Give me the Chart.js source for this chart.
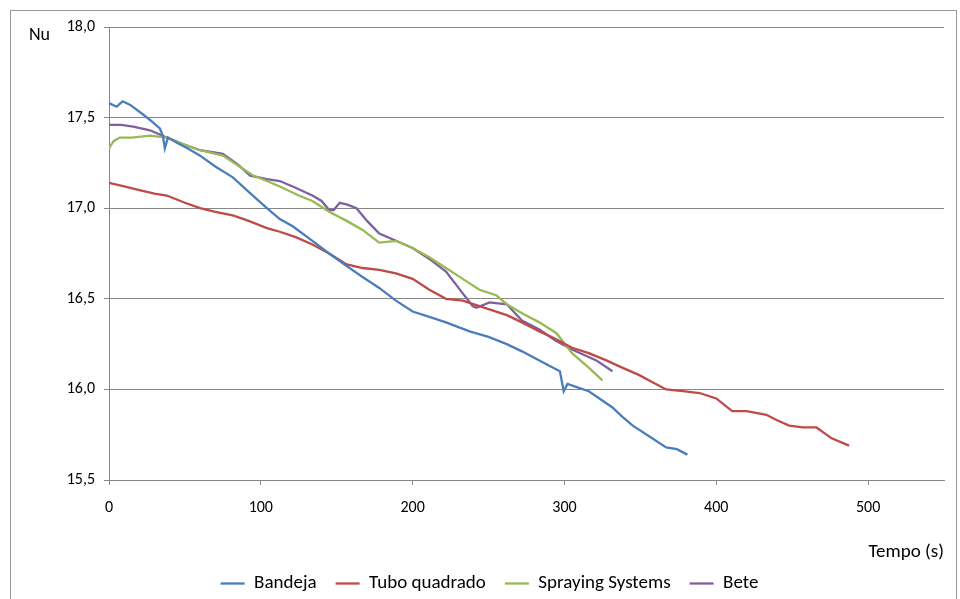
<!DOCTYPE html>
<html><head><meta charset="utf-8">
<script src="https://cdn.jsdelivr.net/npm/chart.js@4/dist/chart.umd.min.js"></script>
<style>html,body{margin:0;padding:0;background:#fff}canvas{display:block}</style>
</head><body>
<canvas id="c" width="960" height="599"></canvas>
<script>
const seriesNames = ["Bandeja", "Tubo quadrado", "Spraying Systems", "Bete"];
const xTickValues = [0, 100, 200, 300, 400, 500];
const yTickValues = [15.5, 16.0, 16.5, 17.0, 17.5, 18.0];

const bandejaT = [0, 5, 9, 14, 22, 28, 33.5, 35.5, 36.8, 38.8, 45, 52, 60, 70, 81.6, 92, 104, 112.5, 121, 134, 145, 156.6, 167, 178, 189, 200, 211, 222, 237.5, 250, 262, 272, 283.5, 290, 297, 299.5, 302, 309, 316, 323, 331.6, 338, 345, 356, 367, 374, 381];
const bandejaNu = [17.58, 17.56, 17.59, 17.57, 17.52, 17.48, 17.44, 17.40, 17.33, 17.39, 17.36, 17.33, 17.29, 17.23, 17.17, 17.09, 17.00, 16.94, 16.90, 16.82, 16.75, 16.68, 16.62, 16.56, 16.49, 16.43, 16.40, 16.37, 16.32, 16.29, 16.25, 16.21, 16.16, 16.13, 16.10, 15.99, 16.03, 16.01, 15.99, 15.95, 15.90, 15.85, 15.80, 15.74, 15.68, 15.67, 15.64];

const tuboT = [0, 10, 20, 30, 38, 50, 60, 70, 81.6, 92, 104, 112.5, 123, 134, 145, 156.6, 167, 178, 189, 200, 211, 222, 233, 244, 262, 272, 283.5, 294, 305, 316, 327.6, 338, 349, 358, 367, 378, 389, 400, 410.5, 420, 433, 440, 448, 457, 466, 476, 487.5];
const tuboNu = [17.14, 17.12, 17.10, 17.08, 17.07, 17.03, 17.00, 16.98, 16.96, 16.93, 16.89, 16.87, 16.84, 16.80, 16.75, 16.69, 16.67, 16.66, 16.64, 16.61, 16.55, 16.50, 16.49, 16.46, 16.41, 16.37, 16.32, 16.28, 16.23, 16.20, 16.16, 16.12, 16.08, 16.04, 16.00, 15.99, 15.98, 15.95, 15.88, 15.88, 15.86, 15.83, 15.80, 15.79, 15.79, 15.73, 15.69];

const sprayT = [0, 3, 7, 15, 27, 38, 50, 60, 75, 86, 95, 104, 112.5, 125, 134, 145, 156.6, 167, 178, 189, 200, 211, 222, 233, 244, 255, 262, 272, 283.5, 294.7, 305, 316, 325];
const sprayNu = [17.33, 17.37, 17.39, 17.39, 17.40, 17.39, 17.35, 17.32, 17.29, 17.23, 17.18, 17.15, 17.12, 17.07, 17.04, 16.98, 16.93, 16.88, 16.81, 16.82, 16.78, 16.73, 16.67, 16.61, 16.55, 16.52, 16.47, 16.42, 16.37, 16.31, 16.20, 16.12, 16.05];

const beteT = [0, 8, 16, 27, 38, 50, 60, 75, 85, 93, 104, 112.5, 121, 134, 140, 145, 148, 152, 157, 163, 170, 178, 189, 200, 211, 222, 233, 239.5, 242, 250.6, 262, 272, 283.5, 294, 305, 321, 331.6];
const beteNu = [17.46, 17.46, 17.45, 17.43, 17.39, 17.35, 17.32, 17.30, 17.24, 17.18, 17.16, 17.15, 17.12, 17.07, 17.04, 16.99, 16.99, 17.03, 17.02, 17.00, 16.93, 16.86, 16.82, 16.78, 16.72, 16.65, 16.53, 16.46, 16.45, 16.48, 16.47, 16.38, 16.33, 16.27, 16.22, 16.16, 16.10];

const colors = ["#4A7EBB", "#BE4B48", "#98B954", "#7D60A0"];
const xs = [bandejaT, tuboT, sprayT, beteT];
const ys = [bandejaNu, tuboNu, sprayNu, beteNu];

const FONT = 'Carlito, Lato, "Liberation Sans", sans-serif';
const GRID = "#878787";

const datasets = seriesNames.map((name, i) => ({
  label: name,
  data: xs[i].map((t, k) => ({x: t, y: ys[i][k]})),
  borderColor: colors[i],
  backgroundColor: colors[i],
  borderWidth: 2.3,
  pointRadius: 0,
  pointHoverRadius: 0,
  showLine: true,
  fill: false,
  tension: 0
}));

const framePlugin = {
  id: 'frame',
  beforeDraw(chart) {
    const ctx = chart.ctx;
    ctx.save();
    ctx.fillStyle = '#fff';
    ctx.fillRect(0, 0, chart.width, chart.height);
    ctx.strokeStyle = '#9a9a9a';
    ctx.lineWidth = 1;
    ctx.strokeRect(10.5, 10.5, 946, 600);
    ctx.restore();
  },
  afterDraw(chart) {
    const ctx = chart.ctx;
    ctx.save();
    ctx.fillStyle = '#000';
    ctx.font = '18px ' + FONT;
    ctx.textBaseline = 'middle';
    ctx.textAlign = 'left';
    ctx.fillText('Nu', 29, 35);
    ctx.restore();
  }
};

new Chart(document.getElementById('c'), {
  type: 'scatter',
  data: { datasets },
  plugins: [framePlugin],
  options: {
    responsive: false,
    animation: false,
    devicePixelRatio: 1,
    layout: { padding: { left: 35, top: 27, right: 16, bottom: -4 } },
    plugins: {
      tooltip: { enabled: false },
      legend: {
        position: 'bottom',
        labels: {
          usePointStyle: true,
          pointStyle: 'line',
          pointStyleWidth: 24,
          boxHeight: 19,
          padding: 19,
          color: '#000',
          font: { family: FONT, size: 19 }
        }
      }
    },
    scales: {
      x: {
        type: 'linear',
        min: 0, max: 550,
        afterBuildTicks(s) { s.ticks = xTickValues.map(v => ({value: v})); },
        afterFit(s) { s.height = 75; },
        grid: { drawOnChartArea: false, drawTicks: true, tickLength: 5, color: GRID },
        border: { color: GRID, width: 1 },
        ticks: { padding: 13, color: '#000', font: { family: FONT, size: 16 }, maxRotation: 0 },
        title: { display: true, text: 'Tempo (s)', align: 'end', color: '#000', font: { family: FONT, size: 19 }, padding: { top: 4, bottom: -9 } }
      },
      y: {
        type: 'linear',
        min: 15.5, max: 18.0,
        afterBuildTicks(s) { s.ticks = yTickValues.map(v => ({value: v})); },
        afterFit(s) { s.width = 74; },
        grid: { color: GRID, tickLength: 5, drawTicks: true },
        border: { color: GRID, width: 1 },
        ticks: { padding: 9, color: '#000', font: { family: FONT, size: 16 },
          callback: v => Number(v).toFixed(1).replace('.', ',') }
      }
    }
  }
});
</script>
</body></html>
